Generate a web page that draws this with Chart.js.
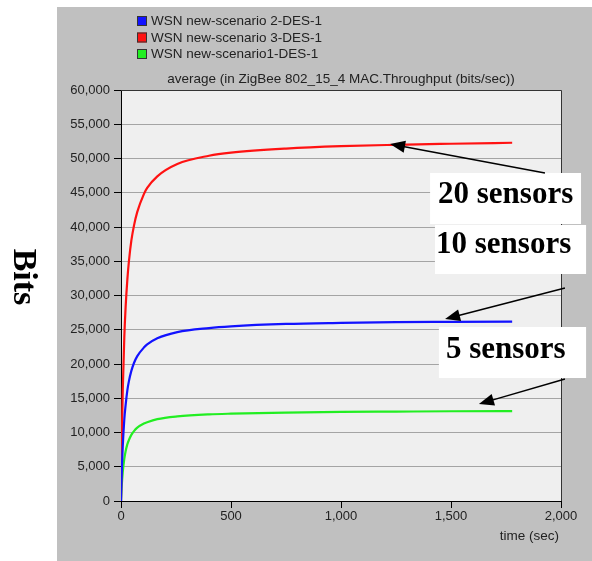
<!DOCTYPE html>
<html>
<head>
<meta charset="utf-8">
<title>ZigBee MAC throughput</title>
<script src="https://cdn.jsdelivr.net/npm/chart.js@4.4.1/dist/chart.umd.min.js"></script>
<style>
  html, body { margin: 0; padding: 0; background: #fff; }
  canvas { display: block; }
</style>
</head>
<body>
<canvas id="throughputChart" width="592" height="561"></canvas>
<script>
// Simulation time (sec) and average MAC throughput (bits/sec) per scenario
const timeSec = [0, 3, 8, 15, 21, 29, 36, 47, 59, 74, 104, 119, 165, 256, 400, 500, 750, 1000, 1250, 1500, 1778];
const scenario2Bits = [0, 3800, 8000, 11900, 14000, 16200, 17500, 19000, 20150, 21150, 22400, 22850, 23750, 24650, 25250, 25500, 25850, 26000, 26100, 26150, 26200];
const scenario3Bits = [0, 8000, 16200, 23900, 28300, 32400, 35000, 38000, 40200, 42200, 44800, 45700, 47400, 49200, 50400, 50850, 51450, 51800, 52000, 52150, 52300];
const scenario1Bits = [0, 2000, 4200, 6150, 7250, 8300, 8900, 9650, 10200, 10700, 11300, 11500, 11950, 12350, 12650, 12750, 12900, 13000, 13050, 13100, 13130];

const seriesLabels = ['WSN new-scenario 2-DES-1', 'WSN new-scenario 3-DES-1', 'WSN new-scenario1-DES-1'];
const sensorLabels = ['20 sensors', '10 sensors', '5 sensors'];
const chartTitle = 'average (in ZigBee 802_15_4 MAC.Throughput (bits/sec))';
const xAxisTitle = 'time (sec)';
const yAxisTitle = 'Bits';

const seriesColors = ['#1212ff', '#ff1212', '#22ee22'];
const UI_FONT = "'Liberation Sans', Arial, sans-serif";
const NOTE_FONT = "'Liberation Serif', 'Times New Roman', serif";

function toPoints(values) {
  return timeSec.map((t, i) => ({ x: t, y: values[i] }));
}

// Callouts: arrow tip/tail and white box, all in (time, bits) units
const callouts = [
  { text: sensorLabels[0], tip: [1223, 52117], tail: [1927, 47883], box: [1405, 2091, 47883, 40438], at: [1441, 43504] },
  { text: sensorLabels[1], tip: [1473, 26570], tail: [2018, 31095], box: [1427, 2114, 40292, 33139], at: [1432, 36204] },
  { text: sensorLabels[2], tip: [1627, 14161], tail: [2018, 17810], box: [1445, 2114, 25401, 17956], at: [1477, 20876] }
];

function drawArrow(ctx, x1, y1, x2, y2) {
  const ang = Math.atan2(y2 - y1, x2 - x1);
  const head = 15, half = 6;
  ctx.save();
  ctx.strokeStyle = '#000';
  ctx.fillStyle = '#000';
  ctx.lineWidth = 1.5;
  ctx.beginPath();
  ctx.moveTo(x1, y1);
  ctx.lineTo(x2 - Math.cos(ang) * head * 0.8, y2 - Math.sin(ang) * head * 0.8);
  ctx.stroke();
  ctx.beginPath();
  ctx.moveTo(x2, y2);
  ctx.lineTo(x2 - head * Math.cos(ang) + half * Math.sin(ang), y2 - head * Math.sin(ang) - half * Math.cos(ang));
  ctx.lineTo(x2 - head * Math.cos(ang) - half * Math.sin(ang), y2 - head * Math.sin(ang) + half * Math.cos(ang));
  ctx.closePath();
  ctx.fill();
  ctx.restore();
}

// Gray panel behind everything and light plot background
const panelPlugin = {
  id: 'panel',
  beforeDraw(chart) {
    const { ctx, chartArea: a } = chart;
    ctx.save();
    ctx.fillStyle = '#ffffff';
    ctx.fillRect(0, 0, chart.width, chart.height);
    ctx.fillStyle = '#c0c0c0';
    ctx.fillRect(57, 7, chart.width - 57, chart.height - 7);
    ctx.fillStyle = '#efefef';
    ctx.fillRect(a.left, a.top, a.right - a.left, a.bottom - a.top);
    ctx.restore();
  },
  afterDraw(chart) {
    const { ctx, chartArea: a, scales } = chart;
    ctx.save();

    // top / right frame of the plot
    ctx.strokeStyle = '#333';
    ctx.lineWidth = 1;
    ctx.beginPath();
    ctx.moveTo(a.left, a.top + 0.5);
    ctx.lineTo(a.right + 0.5, a.top + 0.5);
    ctx.lineTo(a.right + 0.5, a.bottom);
    ctx.stroke();

    // legend
    ctx.font = '13.5px ' + UI_FONT;
    ctx.textBaseline = 'middle';
    ctx.textAlign = 'left';
    chart.data.datasets.forEach((ds, i) => {
      const y = 21 + i * 16.5;
      ctx.fillStyle = ds.borderColor;
      ctx.fillRect(137, y - 5, 10, 10);
      ctx.strokeStyle = '#333';
      ctx.strokeRect(137.5, y - 4.5, 9, 9);
      ctx.fillStyle = '#222';
      ctx.fillText(ds.label, 151, y + 0.5);
    });

    // title over plot
    ctx.textAlign = 'center';
    ctx.fillText(chartTitle, (a.left + a.right) / 2, 79);

    // x axis title
    ctx.textAlign = 'right';
    ctx.fillText(xAxisTitle, a.right - 2, 536);

    // y axis title, rotated
    ctx.save();
    ctx.translate(23, 277);
    ctx.rotate(Math.PI / 2);
    ctx.font = 'bold 34px ' + NOTE_FONT;
    ctx.textAlign = 'center';
    ctx.fillStyle = '#000';
    ctx.fillText(yAxisTitle, 0, 0);
    ctx.restore();

    // sensor callouts
    const px = v => scales.x.getPixelForValue(v);
    const py = v => scales.y.getPixelForValue(v);
    ctx.font = 'bold 31px ' + NOTE_FONT;
    ctx.textAlign = 'left';
    ctx.textBaseline = 'alphabetic';
    callouts.forEach(c => {
      ctx.fillStyle = '#fff';
      const x0 = px(c.box[0]), x1 = px(c.box[1]);
      const y0 = py(c.box[2]), y1 = py(c.box[3]);
      ctx.fillRect(x0, y0, x1 - x0, y1 - y0);
      ctx.fillStyle = '#000';
      ctx.fillText(c.text, px(c.at[0]), py(c.at[1]));
    });
    callouts.forEach(c => {
      drawArrow(ctx, px(c.tail[0]), py(c.tail[1]), px(c.tip[0]), py(c.tip[1]));
    });

    ctx.restore();
  }
};

const datasets = [scenario2Bits, scenario3Bits, scenario1Bits].map((vals, i) => ({
  label: seriesLabels[i],
  data: toPoints(vals),
  borderColor: seriesColors[i],
  backgroundColor: seriesColors[i],
  borderWidth: 2.2,
  pointRadius: 0,
  cubicInterpolationMode: 'monotone',
  fill: false
}));

new Chart(document.getElementById('throughputChart'), {
  type: 'line',
  data: { datasets: datasets },
  options: {
    responsive: false,
    animation: false,
    layout: { padding: { top: 90, right: 31, left: 0, bottom: 0 } },
    plugins: {
      legend: { display: false },
      title: { display: false },
      tooltip: { enabled: false }
    },
    scales: {
      x: {
        type: 'linear',
        min: 0,
        max: 2000,
        afterFit: s => { s.height = 60; },
        grid: { drawOnChartArea: false, tickColor: '#000', tickLength: 7 },
        border: { color: '#000', width: 1 },
        ticks: {
          stepSize: 500,
          padding: 1,
          color: '#222',
          font: { family: UI_FONT, size: 13 },
          maxRotation: 0
        }
      },
      y: {
        min: 0,
        max: 60000,
        afterFit: s => { s.width = 121; },
        grid: { color: '#a4a4a4', tickColor: '#000', tickLength: 7 },
        border: { color: '#000', width: 1 },
        ticks: {
          stepSize: 5000,
          padding: 4,
          color: '#222',
          font: { family: UI_FONT, size: 13 }
        }
      }
    }
  },
  plugins: [panelPlugin]
});
</script>
</body>
</html>
